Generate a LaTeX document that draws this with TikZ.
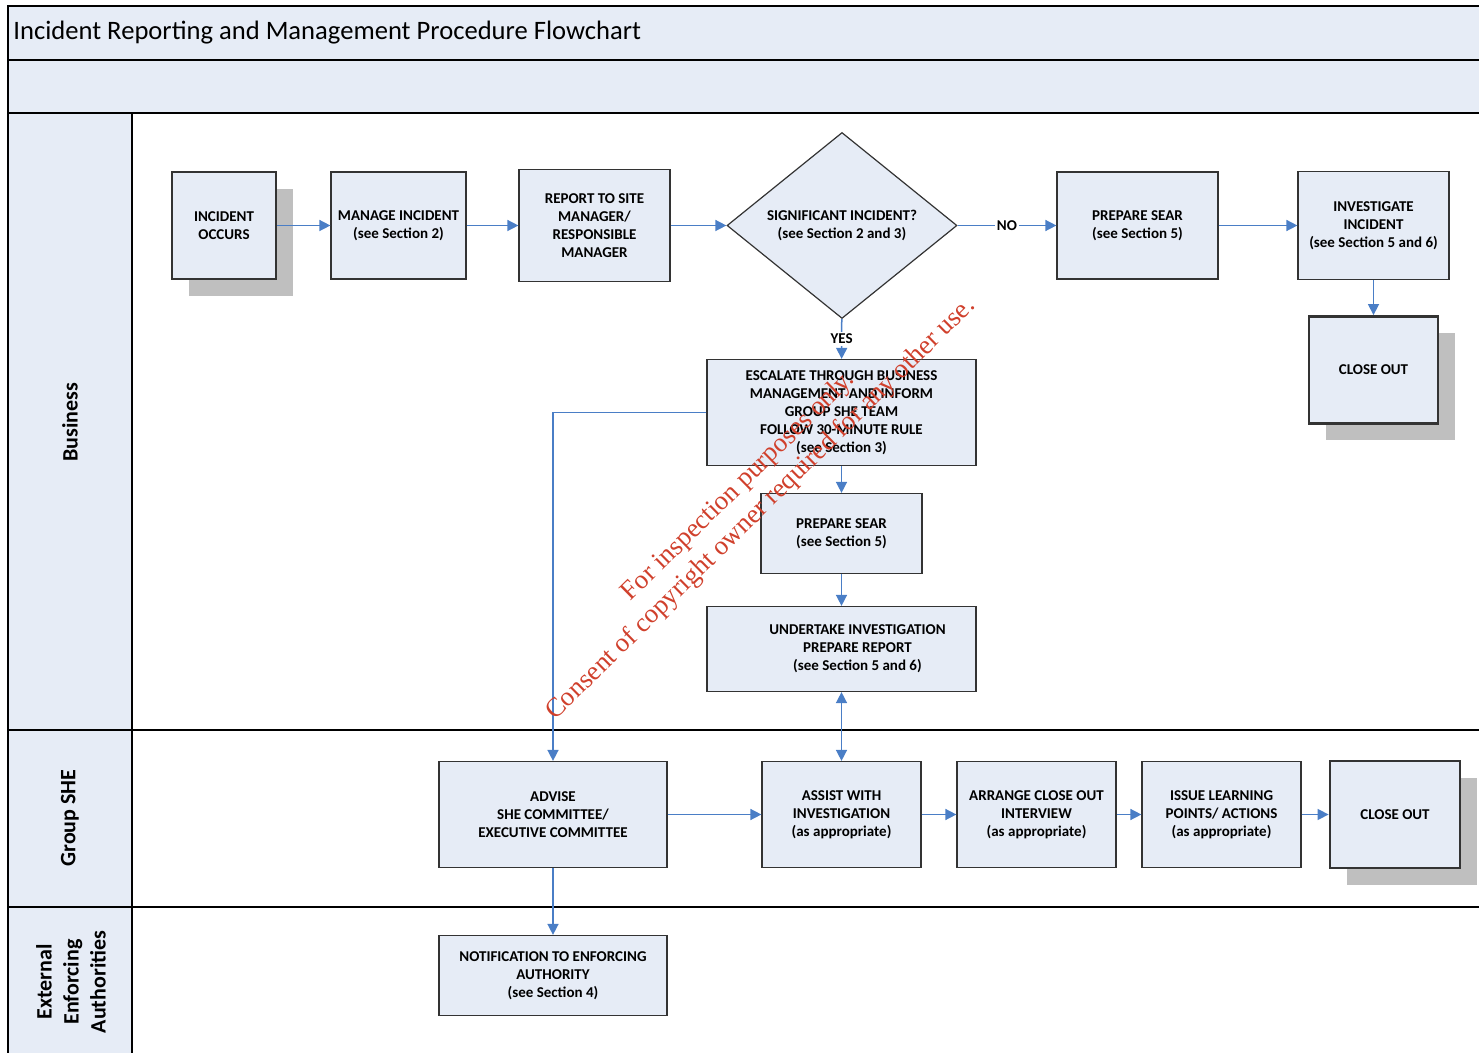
\documentclass[tikz,border=0pt]{standalone}
\usepackage{fontspec}
\setmainfont{Carlito}
\newfontfamily\markfont{Liberation Serif}
\usetikzlibrary{arrows.meta,shapes.geometric,shadows}

\definecolor{lanefill}{HTML}{E6ECF6}
\definecolor{flowblue}{HTML}{4A7EC6}
\definecolor{shadowgrey}{HTML}{BFBFBF}
\definecolor{markred}{HTML}{D0402C}

\tikzset{
  every node/.style={font=\fontsize{7.5}{9}\selectfont\bfseries},
  box/.style={draw=black!80, fill=lanefill, line width=0.6pt, align=center, inner sep=1pt},
  endbox/.style={box, line width=1.4pt,
    drop shadow={shadow xshift=8.5pt, shadow yshift=-8.5pt, fill=shadowgrey, opacity=1}},
  decision/.style={diamond, draw=black!80, fill=lanefill, line width=0.6pt, aspect=1.24,
    inner sep=0pt, minimum width=115pt, minimum height=93pt, align=center},
  flow/.style={draw=flowblue, line width=0.75pt, -{Triangle[length=5.5pt,width=5.5pt]}},
  twoway/.style={flow, {Triangle[length=5.5pt,width=5.5pt]}-{Triangle[length=5.5pt,width=5.5pt]}},
  answer/.style={fill=white, inner sep=1pt},
  lane/.style={rotate=90, align=center, font=\fontsize{11}{13.5}\selectfont\bfseries},
}

\begin{document}
\begin{tikzpicture}[x=0.5pt, y=-0.5pt]
  \useasboundingbox (0,0) rectangle (1479,1053);

  % header bands and lane column
  \fill[lanefill] (8,6) rectangle (1482,113);
  \fill[lanefill] (8,113) rectangle (132,1056);
  \draw[line width=0.8pt] (1482,6) -- (8,6) -- (8,1056);
  \draw[line width=0.8pt] (8,60) -- (1482,60)
                          (8,113) -- (1482,113)
                          (8,730) -- (1482,730)
                          (8,907) -- (1482,907)
                          (132,113) -- (132,1056);

  \node[anchor=west, inner sep=1pt, font=\fontsize{13.3}{16}\selectfont] (title) at (11,33)
    {Incident Reporting and Management Procedure Flowchart};

  \node[lane] (business) at (70,422) {Business};
  \node[lane] (groupshe) at (70,818) {Group SHE};
  \node[lane] (external) at (71,982) {External\\Enforcing\\Authorities};

  % business lane
  \node[endbox, minimum width=52pt, minimum height=53.5pt] (occurs) at (224,225.5)
    {INCIDENT\\OCCURS};
  \node[box, minimum width=67.5pt, minimum height=53.5pt] (manage) at (398.5,225.5)
    {MANAGE INCIDENT\\(see Section 2)};
  \node[box, minimum width=75.5pt, minimum height=56pt] (report) at (594.5,225.5)
    {REPORT TO SITE\\MANAGER/\\RESPONSIBLE\\MANAGER};
  \node[decision] (significant) at (842,225.5)
    {SIGNIFICANT INCIDENT?\\(see Section 2 and 3)};
  \node[box, minimum width=80.5pt, minimum height=53.5pt] (searA) at (1137.5,225.5)
    {PREPARE SEAR\\(see Section 5)};
  \node[box, minimum width=75.5pt, minimum height=54pt] (investigate) at (1373.5,225.5)
    {INVESTIGATE\\INCIDENT\\(see Section 5 and 6)};
  \node[endbox, minimum width=64.5pt, minimum height=53.5pt] (closeA) at (1373.5,370)
    {CLOSE OUT};
  \node[box, minimum width=134.5pt, minimum height=53pt] (escalate) at (841.5,412.5)
    {ESCALATE THROUGH BUSINESS\\MANAGEMENT AND INFORM\\GROUP SHE TEAM\\FOLLOW 30-MINUTE RULE\\(see Section 3)};
  \node[box, minimum width=80.5pt, minimum height=40pt] (searB) at (841.5,533.5)
    {PREPARE SEAR\\(see Section 5)};
  \node[box, minimum width=134.5pt, minimum height=42.5pt] (undertake) at (841.5,649)
    {\begin{tabular}{@{\hspace{16pt}}c@{}}UNDERTAKE INVESTIGATION\\PREPARE REPORT\\(see Section 5 and 6)\end{tabular}};

  % group SHE lane
  \node[box, minimum width=114pt, minimum height=53pt] (advise) at (553,814.5)
    {ADVISE\\SHE COMMITTEE/\\EXECUTIVE COMMITTEE};
  \node[box, minimum width=79.5pt, minimum height=53pt] (assist) at (841.5,814.5)
    {ASSIST WITH\\INVESTIGATION\\(as appropriate)};
  \node[box, minimum width=79.5pt, minimum height=53pt] (arrange) at (1036.5,814.5)
    {ARRANGE CLOSE OUT\\INTERVIEW\\(as appropriate)};
  \node[box, minimum width=79.5pt, minimum height=53pt] (issue) at (1221.5,814.5)
    {ISSUE LEARNING\\POINTS/ ACTIONS\\(as appropriate)};
  \node[endbox, minimum width=65pt, minimum height=53.5pt] (closeB) at (1395,814.5)
    {CLOSE OUT};

  % external lane
  \node[box, minimum width=114pt, minimum height=40pt] (notify) at (553,975.5)
    {NOTIFICATION TO ENFORCING\\AUTHORITY\\(see Section 4)};

  % connectors
  \draw[flow] (occurs) -- (manage);
  \draw[flow] (manage) -- (report);
  \draw[flow] (report) -- (significant);
  \draw[flow] (significant) -- node[answer] {NO} (searA);
  \draw[flow] (searA) -- (investigate);
  \draw[flow] (investigate) -- (closeA);
  \draw[flow] (significant) -- node[answer] {YES} (escalate);
  \draw[flow] (escalate) -- (searB);
  \draw[flow] (searB) -- (undertake);
  \draw[flow] (escalate.west) -| (advise.north);
  \draw[twoway] (assist) -- (undertake);
  \draw[flow] (advise) -- (assist);
  \draw[flow] (assist) -- (arrange);
  \draw[flow] (arrange) -- (issue);
  \draw[flow] (issue) -- (closeB);
  \draw[flow] (advise) -- (notify);

  % stamp across the middle
  \node[rotate=44.5, text=markred, align=center, font=\markfont\fontsize{13.4}{16}\selectfont]
    (stamp) at (750,498)
    {For inspection purposes only.\\Consent of copyright owner required for any other use.};
\end{tikzpicture}
\end{document}
